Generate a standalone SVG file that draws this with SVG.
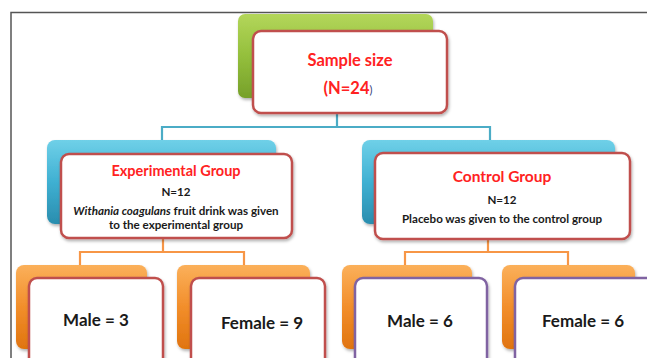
<svg xmlns="http://www.w3.org/2000/svg" width="647" height="358" viewBox="0 0 647 358">
<defs>
<linearGradient id="gGreen" x1="0" y1="0" x2="0" y2="1"><stop offset="0" stop-color="#B3D65A"/><stop offset="0.5" stop-color="#94BF3C"/><stop offset="1" stop-color="#76A02A"/></linearGradient>
<linearGradient id="gBlue" x1="0" y1="0" x2="0" y2="1"><stop offset="0" stop-color="#6FD0E8"/><stop offset="0.5" stop-color="#3FB0D2"/><stop offset="1" stop-color="#2A8DAE"/></linearGradient>
<linearGradient id="gOrange" x1="0" y1="0" x2="0" y2="1"><stop offset="0" stop-color="#FBB05A"/><stop offset="0.5" stop-color="#F28E2B"/><stop offset="1" stop-color="#E0740F"/></linearGradient>
<filter id="sh" x="-10%" y="-10%" width="125%" height="130%"><feDropShadow dx="1" dy="2" stdDeviation="1.5" flood-color="#000" flood-opacity="0.3"/></filter>
</defs>
<style>
.frame{fill:none;stroke:#555;stroke-width:1.5}
.back{filter:url(#sh)}
.card{fill:#fff;stroke:#C0504D;stroke-width:2.5;filter:url(#sh)}
.cardp{fill:#fff;stroke:#8064A2;stroke-width:2.5;filter:url(#sh)}
.title{font-family:Lato,"Liberation Sans",sans-serif;font-weight:bold;fill:#FF2222;text-anchor:middle}
.body{font-family:Lato,"Liberation Sans",sans-serif;font-weight:bold;fill:#1a1a1a;text-anchor:middle;font-size:11.6px}
.big{font-family:Lato,"Liberation Sans",sans-serif;font-weight:bold;fill:#1a1a1a;text-anchor:middle;font-size:17px}
.cb{fill:none;stroke:#4BACC6;stroke-width:2.2}
.co{fill:none;stroke:#F79646;stroke-width:2.2}
</style>
<rect x="0" y="0" width="647" height="358" fill="#fff"/>
<path class="frame" d="M11,362 V12.5 H650"/>
<g id="connectors">
<path class="cb" d="M337,113 V127 M162,141 V127 H490 V141"/>
<path class="co" d="M163,238 V252 M80,265 V252 H244 V265"/>
<path class="co" d="M488,239 V252 M405,265 V252 H568 V265"/>
</g>
<g id="sample">
<rect class="back" x="238" y="14" width="195" height="84" rx="7" fill="url(#gGreen)"/>
<rect class="card" x="253" y="31" width="194" height="82" rx="8"/>
<text class="title" x="350" y="66" font-size="16.5">Sample size</text>
<text class="title" x="348" y="94" font-size="16.5">(N=24<tspan fill="#2F3B7A" font-size="11" font-weight="normal">)</tspan></text>
</g>
<g id="experimental">
<rect class="back" x="47" y="140" width="229" height="84" rx="8" fill="url(#gBlue)"/>
<rect class="card" x="61" y="154" width="231" height="84" rx="8"/>
<text class="title" x="176" y="176" font-size="14.5">Experimental Group</text>
<text class="body" x="176" y="196">N=12</text>
<text class="body" x="176" y="215"><tspan font-style="italic">Withania coagulans</tspan> fruit drink was given</text>
<text class="body" x="176" y="229">to the experimental group</text>
</g>
<g id="control">
<rect class="back" x="362" y="140" width="253" height="84" rx="8" fill="url(#gBlue)"/>
<rect class="card" x="375" y="153" width="255" height="86" rx="8"/>
<text class="title" x="502" y="182" font-size="15.5">Control Group</text>
<text class="body" x="502" y="204">N=12</text>
<text class="body" x="502" y="223">Placebo was given to the control group</text>
</g>
<g id="male3">
<rect class="back" x="16" y="265" width="131" height="84" rx="8" fill="url(#gOrange)"/>
<rect class="card" x="29" y="278" width="134" height="90" rx="8"/>
<text class="big" x="96" y="326">Male = 3</text>
</g>
<g id="female9">
<rect class="back" x="177" y="265" width="133" height="84" rx="8" fill="url(#gOrange)"/>
<rect class="card" x="191" y="278" width="134" height="90" rx="8"/>
<text class="big" x="262" y="329">Female = 9</text>
</g>
<g id="male6">
<rect class="back" x="342" y="265" width="130" height="84" rx="8" fill="url(#gOrange)"/>
<rect class="cardp" x="355" y="278" width="132" height="90" rx="8"/>
<text class="big" x="420" y="327">Male = 6</text>
</g>
<g id="female6">
<rect class="back" x="502" y="265" width="133" height="84" rx="8" fill="url(#gOrange)"/>
<rect class="cardp" x="515" y="278" width="140" height="90" rx="8"/>
<text class="big" x="583" y="327">Female = 6</text>
</g>
</svg>
